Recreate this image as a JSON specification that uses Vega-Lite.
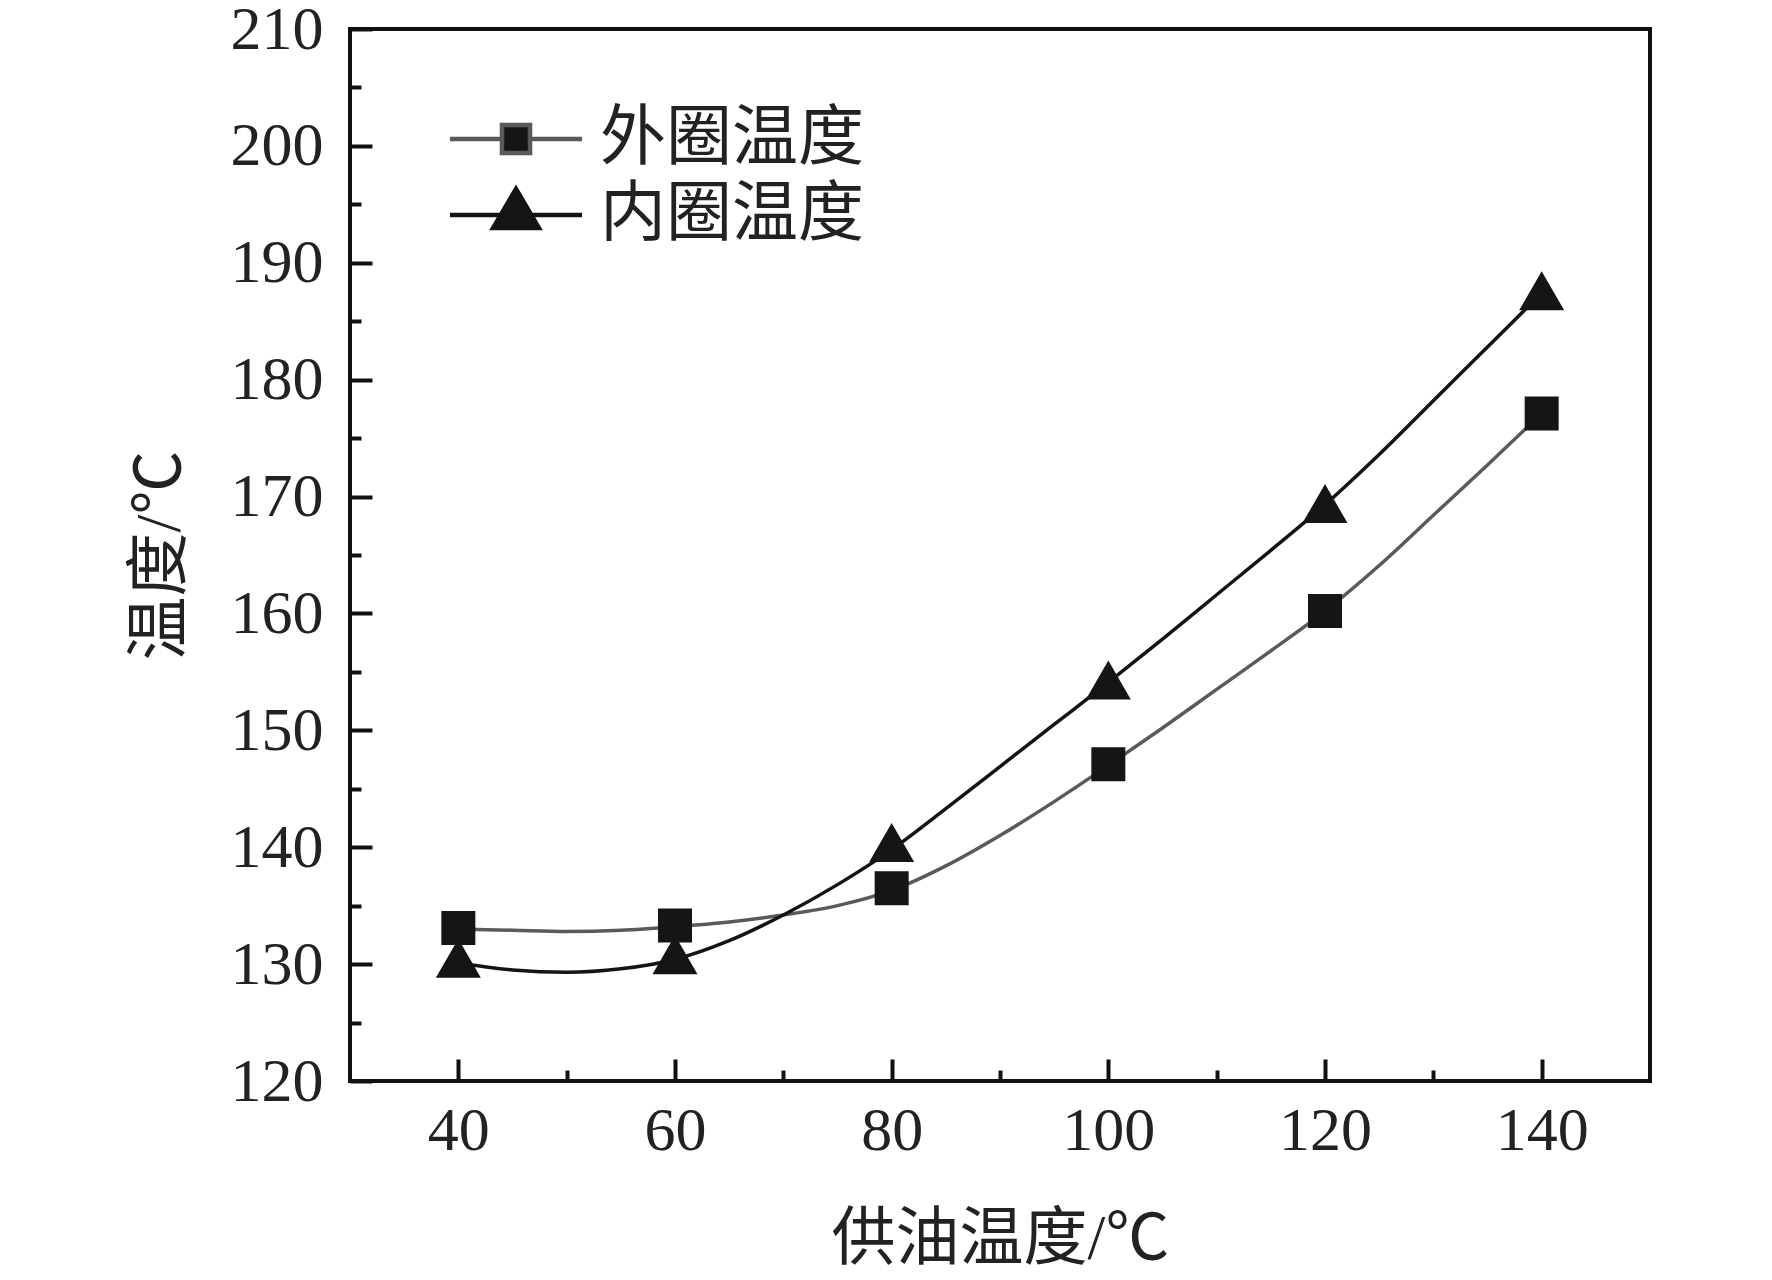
{
  "$schema": "https://vega.github.io/schema/vega-lite/v6.json",
  "width": 1300,
  "height": 1052,
  "autosize": {"type": "none"},
  "padding": {"left": 350, "top": 29, "right": 122, "bottom": 199},
  "background": "white",
  "config": {
    "view": {"stroke": "#111111", "strokeWidth": 4},
    "axis": {
      "domain": false,
      "grid": false,
      "labelFont": "Liberation Serif",
      "labelFontSize": 62,
      "labelColor": "#222222",
      "tickColor": "#111111",
      "tickWidth": 4,
      "labelFlush": false,
      "labelOverlap": false,
      "titleFont": "'Liberation Serif', 'Noto Sans CJK SC', sans-serif",
      "titleFontSize": 64,
      "titleFontWeight": "normal",
      "titleColor": "#222222"
    },
    "legend": {
      "title": null,
      "orient": "none",
      "legendX": 133,
      "legendY": 77,
      "padding": 0,
      "rowPadding": 7,
      "labelFont": "'Noto Sans CJK SC', sans-serif",
      "labelFontSize": 66,
      "labelColor": "#222222",
      "labelOffset": 51,
      "labelLimit": 500,
      "symbolSize": 1089,
      "symbolStrokeWidth": 4.5,
      "symbolOpacity": 1
    }
  },
  "resolve": {"axis": {"x": "independent", "y": "independent"}},
  "layer": [
    {
      "data": {
        "values": [
          {"x": 40, "y": 133.0, "series": "外圈温度"},
          {"x": 45, "y": 132.9, "series": "外圈温度"},
          {"x": 50, "y": 132.8, "series": "外圈温度"},
          {"x": 55, "y": 132.9, "series": "外圈温度"},
          {"x": 60, "y": 133.2, "series": "外圈温度"},
          {"x": 65, "y": 133.6, "series": "外圈温度"},
          {"x": 70, "y": 134.2, "series": "外圈温度"},
          {"x": 75, "y": 135.0, "series": "外圈温度"},
          {"x": 80, "y": 136.3, "series": "外圈温度"},
          {"x": 85, "y": 138.4, "series": "外圈温度"},
          {"x": 90, "y": 141.0, "series": "外圈温度"},
          {"x": 95, "y": 143.9, "series": "外圈温度"},
          {"x": 100, "y": 147.0, "series": "外圈温度"},
          {"x": 105, "y": 150.2, "series": "外圈温度"},
          {"x": 110, "y": 153.5, "series": "外圈温度"},
          {"x": 115, "y": 156.8, "series": "外圈温度"},
          {"x": 120, "y": 160.2, "series": "外圈温度"},
          {"x": 125, "y": 164.1, "series": "外圈温度"},
          {"x": 130, "y": 168.4, "series": "外圈温度"},
          {"x": 135, "y": 172.7, "series": "外圈温度"},
          {"x": 140, "y": 177.1, "series": "外圈温度"}
        ]
      },
      "mark": {"type": "line", "interpolate": "monotone", "strokeWidth": 3.5, "color": "#5a5a5a"},
      "encoding": {
        "x": {
          "field": "x",
          "type": "quantitative",
          "scale": {"domain": [30, 150], "nice": false, "zero": false},
          "axis": {
            "orient": "bottom",
            "values": [40, 60, 80, 100, 120, 140],
            "tickSize": -22,
            "labelPadding": 41,
            "title": "供油温度/℃",
            "titleX": 650,
            "titleY": 158,
            "titleAlign": "center",
            "titleBaseline": "middle"
          }
        },
        "y": {
          "field": "y",
          "type": "quantitative",
          "scale": {"domain": [120, 210], "nice": false, "zero": false},
          "axis": {
            "orient": "left",
            "values": [120, 130, 140, 150, 160, 170, 180, 190, 200, 210],
            "tickSize": -22,
            "labelPadding": 49,
            "title": "温度/℃",
            "titleX": -190,
            "titleY": 526,
            "titleAngle": 270,
            "titleAlign": "center",
            "titleBaseline": "middle"
          }
        }
      }
    },
    {
      "data": {
        "values": [
          {"x": 40, "y": 130.1, "series": "内圈温度"},
          {"x": 45, "y": 129.5, "series": "内圈温度"},
          {"x": 50, "y": 129.3, "series": "内圈温度"},
          {"x": 55, "y": 129.6, "series": "内圈温度"},
          {"x": 60, "y": 130.4, "series": "内圈温度"},
          {"x": 65, "y": 132.0, "series": "内圈温度"},
          {"x": 70, "y": 134.2, "series": "内圈温度"},
          {"x": 75, "y": 136.8, "series": "内圈温度"},
          {"x": 80, "y": 139.8, "series": "内圈温度"},
          {"x": 85, "y": 143.3, "series": "内圈温度"},
          {"x": 90, "y": 146.9, "series": "内圈温度"},
          {"x": 95, "y": 150.5, "series": "内圈温度"},
          {"x": 100, "y": 154.1, "series": "内圈温度"},
          {"x": 105, "y": 157.8, "series": "内圈温度"},
          {"x": 110, "y": 161.6, "series": "内圈温度"},
          {"x": 115, "y": 165.4, "series": "内圈温度"},
          {"x": 120, "y": 169.3, "series": "内圈温度"},
          {"x": 125, "y": 173.6, "series": "内圈温度"},
          {"x": 130, "y": 178.2, "series": "内圈温度"},
          {"x": 135, "y": 182.8, "series": "内圈温度"},
          {"x": 140, "y": 187.4, "series": "内圈温度"}
        ]
      },
      "mark": {"type": "line", "interpolate": "monotone", "strokeWidth": 3.5, "color": "#141414"},
      "encoding": {
        "x": {"field": "x", "type": "quantitative", "axis": null},
        "y": {"field": "y", "type": "quantitative", "axis": null}
      }
    },
    {
      "data": {
        "values": [
          {"x": 40, "y": 133.1, "series": "外圈温度"},
          {"x": 60, "y": 133.3, "series": "外圈温度"},
          {"x": 80, "y": 136.5, "series": "外圈温度"},
          {"x": 100, "y": 147.1, "series": "外圈温度"},
          {"x": 120, "y": 160.2, "series": "外圈温度"},
          {"x": 140, "y": 177.1, "series": "外圈温度"}
        ]
      },
      "mark": {"type": "square", "color": "#151515", "opacity": 1, "size": 1156},
      "encoding": {
        "x": {
          "field": "x",
          "type": "quantitative",
          "axis": {
            "orient": "bottom",
            "values": [50, 70, 90, 110, 130],
            "tickSize": -11,
            "labels": false,
            "title": null
          }
        },
        "y": {
          "field": "y",
          "type": "quantitative",
          "axis": {
            "orient": "left",
            "values": [125, 135, 145, 155, 165, 175, 185, 195, 205],
            "tickSize": -11,
            "labels": false,
            "title": null
          }
        }
      }
    },
    {
      "data": {
        "values": [
          {"x": 40, "y": 130.5, "series": "内圈温度"},
          {"x": 60, "y": 130.8, "series": "内圈温度"},
          {"x": 80, "y": 140.4, "series": "内圈温度"},
          {"x": 100, "y": 154.3, "series": "内圈温度"},
          {"x": 120, "y": 169.4, "series": "内圈温度"},
          {"x": 140, "y": 187.6, "series": "内圈温度"}
        ]
      },
      "mark": {"type": "point", "shape": "triangle-up", "filled": true, "color": "#151515", "opacity": 1, "strokeWidth": 0, "size": 2025},
      "encoding": {
        "x": {"field": "x", "type": "quantitative", "axis": null},
        "y": {"field": "y", "type": "quantitative", "axis": null}
      }
    },
    {
      "data": {
        "values": [
          {"x": 40, "y": 133.1, "series": "外圈温度"},
          {"x": 40, "y": 130.5, "series": "内圈温度"}
        ]
      },
      "mark": {"type": "point", "filled": true, "color": "#151515", "opacity": 0, "size": 1089, "strokeWidth": 4.5},
      "encoding": {
        "x": {"field": "x", "type": "quantitative", "axis": null},
        "y": {"field": "y", "type": "quantitative", "axis": null},
        "shape": {
          "field": "series",
          "type": "nominal",
          "scale": {
            "domain": ["外圈温度", "内圈温度"],
            "range": ["M-4,0H-0.95M0.95,0H4M-0.85,-0.85H0.85V0.85H-0.85Z", "M-4,0H4M0,-1.58L1.39,0.79L-1.39,0.79Z"]
          },
          "legend": {"title": null}
        },
        "stroke": {
          "field": "series",
          "type": "nominal",
          "scale": {"domain": ["外圈温度", "内圈温度"], "range": ["#5a5a5a", "#141414"]},
          "legend": {"title": null}
        }
      }
    }
  ]
}
